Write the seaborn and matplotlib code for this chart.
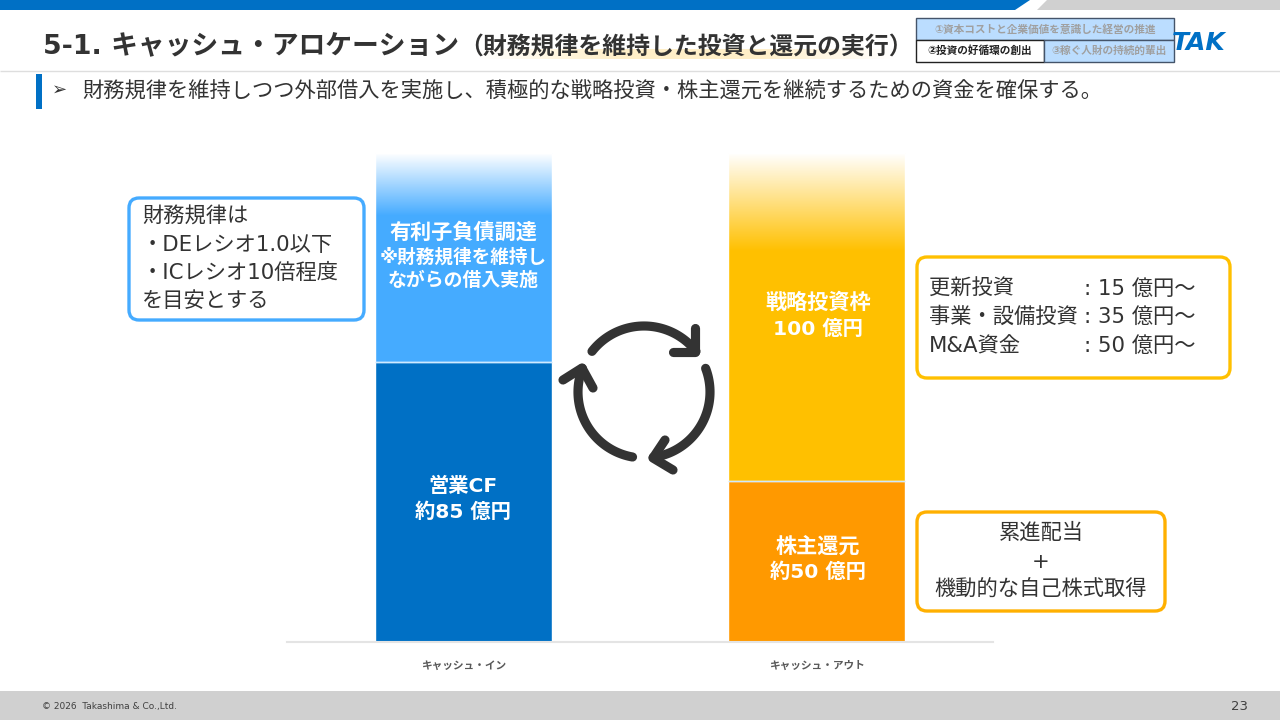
import matplotlib
matplotlib.use('Agg')
import matplotlib.pyplot as plt
import matplotlib.patches as mpatches
from matplotlib.colors import LinearSegmentedColormap
import numpy as np
import pandas as pd
import seaborn as sns

flows = ['キャッシュ・イン', 'キャッシュ・アウト']
lower_values = [86, 49.5]
upper_values = [64, 100.5]
lower_colors = ['#0070C5', '#FF9900']
upper_colors = ['#45ABFF', '#FFC000']

df = pd.DataFrame({'flow': flows, 'lower': lower_values, 'upper': upper_values})
df['total'] = df['lower'] + df['upper']

sns.set_theme(style='white')
# DejaVu first: its latin is close to the wide latin of the slide font
plt.rcParams['font.family'] = ['DejaVu Sans', 'Noto Sans CJK JP']

DARK = '#333333'
fig = plt.figure(figsize=(12.8, 7.2), dpi=100)

# slide layer in pixel coordinates
bg = fig.add_axes([0, 0, 1, 1])
bg.set_xlim(0, 1280)
bg.set_ylim(720, 0)
bg.axis('off')

bg.add_patch(mpatches.Polygon([[1037, 10], [1047, 0], [1280, 0], [1280, 10]], color='#d0d0d0', lw=0))
bg.add_patch(mpatches.Polygon([[0, 0], [1030, 0], [1015, 10], [0, 10]], color='#0070C5', lw=0))
bg.add_patch(mpatches.Rectangle((0, 691), 1280, 29, color='#d0d0d0', lw=0))
bg.hlines(71, 0, 1280, color='#dedede', lw=1)
bg.add_patch(mpatches.Rectangle((36, 74), 6, 35, color='#0070C5', lw=0))

# highlight under the sub title
hl = LinearSegmentedColormap.from_list('hl', ['#FFFFFF', '#FFEFC8', '#FFEFC8', '#FFFFFF'])
bg.imshow(np.linspace(0, 1, 256).reshape(1, -1), cmap=hl, extent=(478, 895, 59, 49), aspect='auto', zorder=1)
bg.set_xlim(0, 1280)
bg.set_ylim(720, 0)

bg.text(43, 47, '5-1. キャッシュ・アロケーション', fontsize=19.3, fontweight='bold', color=DARK, va='center', zorder=3)
bg.text(459, 48, '（財務規律を維持した投資と還元の実行）', fontsize=17.2, fontweight='bold', color=DARK, va='center', zorder=3)
bg.text(52, 90, '➢', fontsize=13, color=DARK, va='center')
bg.text(82, 90, '財務規律を維持しつつ外部借入を実施し、積極的な戦略投資・株主還元を継続するための資金を確保する。',
        fontsize=15.3, color=DARK, va='center')

# top right table
bg.add_patch(mpatches.Rectangle((916, 18), 258, 22, fc='#BBDDFF', ec='#44546A', lw=1))
bg.add_patch(mpatches.Rectangle((916, 40), 128, 22, fc='white', ec='#222222', lw=1))
bg.add_patch(mpatches.Rectangle((1044, 40), 130, 22, fc='#BBDDFF', ec='#44546A', lw=1))
bg.text(1045, 29, '①資本コストと企業価値を意識した経営の推進', fontsize=7.7, fontweight='bold', color='#a0a0a0', ha='center', va='center')
bg.text(980, 51, '②投資の好循環の創出', fontsize=7.7, fontweight='bold', color='#222222', ha='center', va='center')
bg.text(1109, 51, '③稼ぐ人財の持続的輩出', fontsize=7.7, fontweight='bold', color='#a0a0a0', ha='center', va='center')
bg.text(1199, 43, 'TAK', fontsize=18, fontweight='bold', style='italic', color='#0070C5', ha='center', va='center')

# footer
bg.text(42, 707, '© 2026  Takashima & Co.,Ltd.', fontsize=6.5, color='#404040', va='center')
bg.text(1248, 707, '23', fontsize=9.5, color='#404040', ha='right', va='center')

# chart
ax = fig.add_axes([287 / 1280, (720 - 642) / 720, 706 / 1280, 489 / 720])
ax.patch.set_alpha(0)
sns.barplot(data=df, x='flow', y='total', hue='flow', palette=upper_colors, width=0.5,
            legend=False, saturation=1, ax=ax)
top_bars = list(ax.patches)
sns.barplot(data=df, x='flow', y='lower', hue='flow', palette=lower_colors, width=0.5,
            legend=False, saturation=1, ax=ax)

# fade the upper segments into white
stops = [0.30, 0.47]
for bar, stop in zip(top_bars, stops):
    x0 = bar.get_x()
    x1 = x0 + bar.get_width()
    top = bar.get_height()
    rgba = np.ones((256, 1, 4))
    t = np.linspace(0, 1, 256)
    rgba[:, 0, 3] = np.clip(1 - t / stop, 0, 1)
    ax.imshow(rgba, extent=(x0, x1, top - 64, top), aspect='auto', zorder=5)

for i, row in df.iterrows():
    ax.hlines(row['lower'], i - 0.25, i + 0.25, color='#CFE9FF', lw=1, zorder=6)

ax.set_xlim(-0.5, 1.5)
ax.set_ylim(0, 150)
ax.set_xlabel('')
ax.set_ylabel('')
ax.set_yticks([])
ax.tick_params(axis='x', length=0, pad=13.5)
for lab in ax.get_xticklabels():
    lab.set_fontsize(7.7)
    lab.set_fontweight('bold')
    lab.set_color('#595959')
for side in ['top', 'left', 'right']:
    ax.spines[side].set_visible(False)
ax.spines['bottom'].set_color('#e4e4e4')
ax.spines['bottom'].set_linewidth(1.5)

# labels and callouts on top, back in pixel coordinates
fg = fig.add_axes([0, 0, 1, 1])
fg.set_xlim(0, 1280)
fg.set_ylim(720, 0)
fg.axis('off')
fg.patch.set_alpha(0)

bar_text = [
    (463, 233, '有利子負債調達', 15.2),
    (463, 257, '※財務規律を維持し', 13.4),
    (463, 280, 'ながらの借入実施', 13.6),
    (463, 486, '営業CF', 14.6),
    (463, 512, '約85 億円', 14.6),
    (818, 303, '戦略投資枠', 15.2),
    (818, 329, '100 億円', 14.6),
    (818, 547, '株主還元', 15.2),
    (818, 572, '約50 億円', 14.6),
]
for x, y, s, size in bar_text:
    fg.text(x, y, s, color='white', fontsize=size, fontweight='bold', ha='center', va='center')


def callout(x0, y0, x1, y1, color):
    fg.add_patch(mpatches.FancyBboxPatch((x0 + 10, y0 + 10), x1 - x0 - 20, y1 - y0 - 20,
                                         boxstyle='round,pad=10,rounding_size=10',
                                         fc='white', ec=color, lw=2.4))


callout(129, 198, 364, 320, '#45ABFF')
callout(917, 257, 1230, 378, '#FFC000')
callout(917, 512, 1165, 611, '#FFB000')

for y, s in zip([217, 245, 273, 301], ['財務規律は', '・DEレシオ1.0以下', '・ICレシオ10倍程度', 'を目安とする']):
    fg.text(142, y, s, fontsize=15.3, color=DARK, va='center')
for y, name, val in zip([289, 317, 346], ['更新投資', '事業・設備投資', 'M&A資金'], [': 15 億円〜', ': 35 億円〜', ': 50 億円〜']):
    fg.text(929, y, name, fontsize=15.3, color=DARK, va='center')
    fg.text(1084, y, val, fontsize=15.3, color=DARK, va='center')
for y, s in zip([533, 562, 590], ['累進配当', '+', '機動的な自己株式取得']):
    fg.text(1041, y, s, fontsize=15.3, color=DARK, ha='center', va='center')

# cycle arrows
cx, cy, r = 644, 392, 66
arcs = [(142, 38), (21, -82), (260, 159)]
heads = [
    [(695, 328), (695, 352), (673, 352)],
    [(665, 440), (653, 458), (673, 470)],
    [(563, 380), (582, 368), (593, 388)],
]
for (a0, a1), head in zip(arcs, heads):
    t = np.radians(np.linspace(a0, a1, 60))
    fg.plot(cx + r * np.cos(t), cy - r * np.sin(t), color=DARK, lw=6.6, solid_capstyle='round')
    hx, hy = zip(*head)
    fg.plot(hx, hy, color=DARK, lw=6.6, solid_capstyle='round', solid_joinstyle='round')
fg.set_xlim(0, 1280)
fg.set_ylim(720, 0)

fig.savefig('out.png', dpi=100)
